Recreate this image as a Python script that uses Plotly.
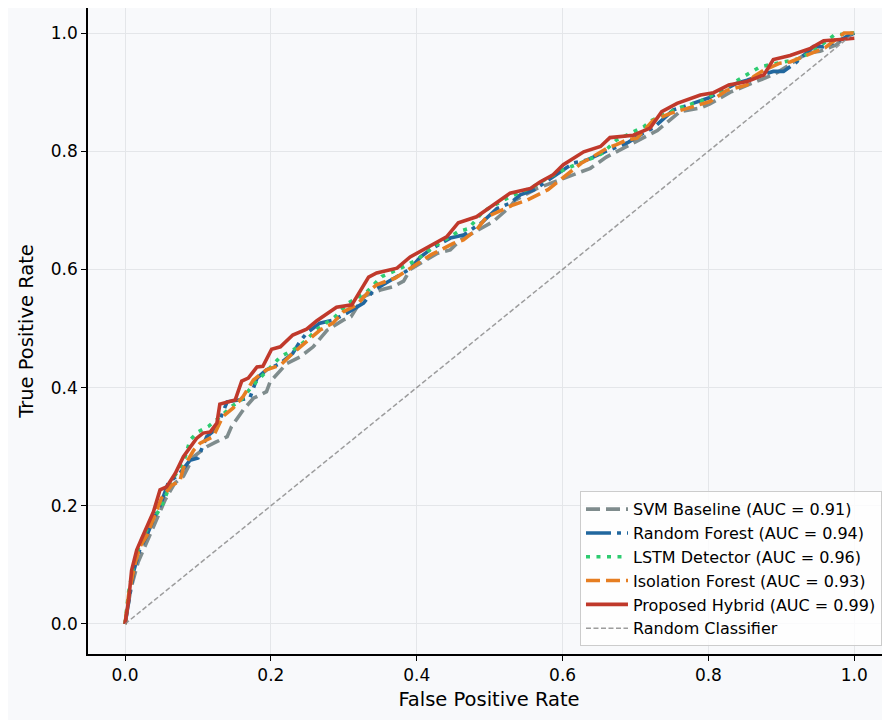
import plotly.graph_objects as go

# ---------------- data ----------------
svm_fpr = [0, 0.008, 0.018, 0.03, 0.045, 0.055, 0.068, 0.08, 0.094, 0.112,
           0.125, 0.14, 0.146, 0.162, 0.176, 0.194, 0.199, 0.222, 0.240, 0.258,
           0.277, 0.299, 0.310, 0.327, 0.350, 0.368, 0.382, 0.391, 0.428, 0.446,
           0.460, 0.491, 0.505, 0.528, 0.535, 0.565, 0.578, 0.620, 0.638, 0.66,
           0.70, 0.73, 0.761, 0.777, 0.789, 0.802, 0.83, 0.86, 0.89, 0.91,
           0.935, 0.953, 0.975, 0.99, 1.0]
svm_tpr = [0, 0.06, 0.105, 0.14, 0.18, 0.21, 0.238, 0.25, 0.283, 0.300,
           0.308, 0.317, 0.334, 0.362, 0.382, 0.393, 0.410, 0.441, 0.452, 0.469,
           0.497, 0.514, 0.52, 0.554, 0.565, 0.571, 0.580, 0.600, 0.627, 0.633,
           0.650, 0.672, 0.681, 0.706, 0.717, 0.737, 0.743, 0.764, 0.771, 0.79,
           0.815, 0.835, 0.867, 0.870, 0.873, 0.880, 0.90, 0.915, 0.93, 0.945,
           0.966, 0.969, 0.98, 0.995, 1.0]

rf_fpr = [0, 0.006, 0.012, 0.02, 0.03, 0.037, 0.048, 0.059, 0.075, 0.089,
          0.100, 0.112, 0.125, 0.140, 0.158, 0.171, 0.181, 0.194, 0.213, 0.230,
          0.240, 0.249, 0.267, 0.285, 0.304, 0.327, 0.341, 0.37, 0.39, 0.405,
          0.418, 0.446, 0.464, 0.49, 0.510, 0.528, 0.542, 0.560, 0.583, 0.615,
          0.633, 0.66, 0.69, 0.711, 0.724, 0.752, 0.765, 0.80, 0.839, 0.853,
          0.875, 0.889, 0.903, 0.92, 0.944, 0.958, 0.975, 0.992, 1.0]
rf_tpr = [0, 0.05, 0.09, 0.125, 0.15, 0.171, 0.2, 0.238, 0.255, 0.277,
          0.281, 0.317, 0.33, 0.376, 0.38, 0.382, 0.416, 0.430, 0.441, 0.458,
          0.478, 0.492, 0.509, 0.514, 0.526, 0.543, 0.565, 0.585, 0.60, 0.621,
          0.633, 0.653, 0.658, 0.68, 0.703, 0.712, 0.726, 0.734, 0.754, 0.780,
          0.785, 0.80, 0.815, 0.831, 0.839, 0.870, 0.875, 0.89, 0.915, 0.920,
          0.93, 0.935, 0.935, 0.95, 0.977, 0.977, 0.985, 0.996, 1.0]

lstm_fpr = [0, 0.005, 0.012, 0.02, 0.03, 0.04, 0.05, 0.065, 0.08, 0.089,
            0.100, 0.114, 0.13, 0.146, 0.160, 0.174, 0.185, 0.213, 0.238, 0.265,
            0.288, 0.306, 0.33, 0.352, 0.375, 0.400, 0.423, 0.457, 0.471, 0.491,
            0.528, 0.56, 0.58, 0.606, 0.640, 0.654, 0.674, 0.711, 0.722, 0.759,
            0.79, 0.82, 0.848, 0.871, 0.9, 0.926, 0.95, 0.972, 0.995, 1.0]
lstm_tpr = [0, 0.055, 0.1, 0.135, 0.16, 0.18, 0.199, 0.245, 0.272, 0.311,
            0.325, 0.334, 0.35, 0.368, 0.38, 0.402, 0.416, 0.452, 0.469, 0.500,
            0.520, 0.543, 0.56, 0.588, 0.60, 0.616, 0.638, 0.664, 0.669, 0.698,
            0.723, 0.74, 0.755, 0.771, 0.788, 0.796, 0.819, 0.841, 0.852, 0.873,
            0.885, 0.905, 0.926, 0.943, 0.95, 0.957, 0.975, 0.996, 1.0, 1.0]

iso_fpr = [0, 0.005, 0.014, 0.02, 0.03, 0.04, 0.05, 0.064, 0.075, 0.08,
           0.094, 0.103, 0.121, 0.134, 0.148, 0.162, 0.176, 0.194, 0.213, 0.230,
           0.240, 0.267, 0.285, 0.299, 0.318, 0.336, 0.345, 0.37, 0.395, 0.42,
           0.450, 0.464, 0.482, 0.496, 0.532, 0.551, 0.58, 0.60, 0.626, 0.638,
           0.661, 0.674, 0.688, 0.702, 0.724, 0.748, 0.784, 0.802, 0.825, 0.853,
           0.862, 0.876, 0.898, 0.912, 0.930, 0.96, 0.986, 1.0]
iso_tpr = [0, 0.05, 0.103, 0.13, 0.15, 0.18, 0.213, 0.235, 0.241, 0.264,
           0.294, 0.306, 0.317, 0.351, 0.365, 0.385, 0.413, 0.430, 0.438, 0.458,
           0.469, 0.497, 0.509, 0.528, 0.540, 0.565, 0.574, 0.585, 0.605, 0.625,
           0.644, 0.650, 0.667, 0.689, 0.709, 0.717, 0.735, 0.755, 0.780, 0.788,
           0.805, 0.811, 0.819, 0.822, 0.852, 0.864, 0.878, 0.884, 0.903, 0.912,
           0.926, 0.937, 0.949, 0.951, 0.960, 0.975, 1.0, 1.0]

hyb_fpr = [0, 0.005, 0.009, 0.016, 0.023, 0.030, 0.039, 0.048, 0.057, 0.069,
           0.080, 0.098, 0.107, 0.117, 0.126, 0.130, 0.151, 0.160, 0.169, 0.181,
           0.189, 0.201, 0.213, 0.230, 0.249, 0.263, 0.290, 0.311, 0.322, 0.334,
           0.345, 0.373, 0.391, 0.414, 0.441, 0.457, 0.482, 0.505, 0.528, 0.556,
           0.569, 0.587, 0.601, 0.629, 0.652, 0.665, 0.697, 0.720, 0.736, 0.757,
           0.789, 0.807, 0.828, 0.853, 0.876, 0.889, 0.912, 0.940, 0.958, 0.981,
           1.0]
hyb_tpr = [0, 0.041, 0.091, 0.125, 0.145, 0.165, 0.190, 0.227, 0.232, 0.255,
           0.283, 0.314, 0.323, 0.325, 0.340, 0.372, 0.379, 0.411, 0.416, 0.435,
           0.436, 0.465, 0.469, 0.489, 0.499, 0.513, 0.536, 0.540, 0.562, 0.587,
           0.594, 0.602, 0.621, 0.637, 0.655, 0.679, 0.689, 0.709, 0.729, 0.737,
           0.748, 0.760, 0.777, 0.799, 0.808, 0.823, 0.827, 0.839, 0.867, 0.881,
           0.895, 0.899, 0.912, 0.918, 0.929, 0.955, 0.962, 0.974, 0.987, 0.989,
           0.991]

diag = [0, 1]

names = ["SVM Baseline (AUC = 0.91)", "Random Forest (AUC = 0.94)",
         "LSTM Detector (AUC = 0.96)", "Isolation Forest (AUC = 0.93)",
         "Proposed Hybrid (AUC = 0.99)"]
ticks = [0.0, 0.2, 0.4, 0.6, 0.8, 1.0]
tick_text = ["0.0", "0.2", "0.4", "0.6", "0.8", "1.0"]

# ---------------- styling ----------------
series = [
    (svm_fpr, svm_tpr, "#7f8c8d", "14px,6px"),
    (rf_fpr, rf_tpr, "#21679e", "25px,6px,4px,6px"),
    (lstm_fpr, lstm_tpr, "#2ecc71", "4px,6.5px"),
    (iso_fpr, iso_tpr, "#e67e22", "14px,6px"),
    (hyb_fpr, hyb_tpr, "#c0392b", "solid"),
]

FONT = "DejaVu Sans"
BG = "#f8f9fb"

fig = go.Figure()
for (fx, ty, col, dash), nm in zip(series, names):
    fig.add_trace(go.Scatter(x=fx, y=ty, mode="lines", name=nm,
                             line=dict(color=col, width=3.6, dash=dash)))
fig.add_trace(go.Scatter(x=diag, y=diag, mode="lines", name="Random Classifier",
                         line=dict(color="rgba(140,140,140,0.85)", width=1.5,
                                   dash="5px,2.5px")))

axis_common = dict(
    tickvals=ticks, ticktext=tick_text,
    showgrid=True, gridcolor="#e4e6e9", gridwidth=1, zeroline=False,
    showline=True, linecolor="black", linewidth=1.5, mirror=False,
    ticks="outside", ticklen=5, tickwidth=1.3, tickcolor="black",
    tickfont=dict(family=FONT, size=17, color="black"),
)

fig.update_layout(
    width=882, height=712,
    margin=dict(l=80, r=0, t=0, b=66),
    paper_bgcolor=BG, plot_bgcolor=BG,
    font=dict(family=FONT, color="black"),
    xaxis=dict(**axis_common, range=[-0.0508, 1.049],
               title=dict(text="False Positive Rate", standoff=8,
                          font=dict(family=FONT, size=19.5, color="black"))),
    yaxis=dict(**axis_common, range=[-0.0508, 1.0423],
               title=dict(text="True Positive Rate", standoff=12,
                          font=dict(family=FONT, size=19.5, color="black"))),
    legend=dict(x=0.99, y=0.012, xanchor="right", yanchor="bottom",
                bgcolor="rgba(255,255,255,0.8)", bordercolor="#cccccc",
                borderwidth=1, font=dict(family=FONT, size=16, color="black"),
                itemwidth=42, tracegroupgap=0),
    showlegend=True,
)

fig.write_html("out.html")
